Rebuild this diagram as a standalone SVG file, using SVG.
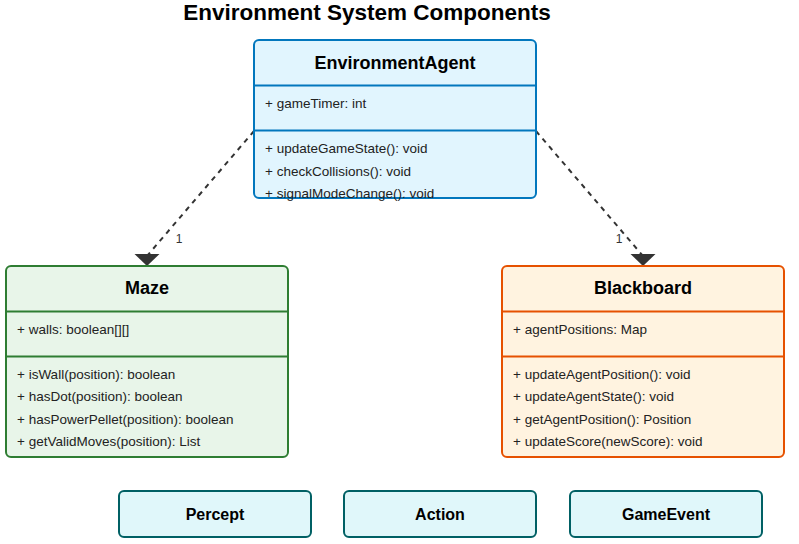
<svg xmlns="http://www.w3.org/2000/svg" width="799" height="544" viewBox="0 0 799 544">
<defs>
<style>
text{font-family:"Liberation Sans",Arial,sans-serif;fill:#000}
.title{font-size:22.5px;font-weight:bold}
.hdr{font-size:18px;font-weight:bold}
.mem{font-size:13.5px;fill:#222}
.small{font-size:16px;font-weight:bold}
.card{font-size:12px;fill:#333}
.env{fill:#e1f5fe;stroke:#0277bd;stroke-width:2}
.envl{stroke:#0277bd;stroke-width:2}
.maze{fill:#e8f5e9;stroke:#2e7d32;stroke-width:2}
.mazel{stroke:#2e7d32;stroke-width:2}
.bb{fill:#fff3e0;stroke:#e65100;stroke-width:2}
.bbl{stroke:#e65100;stroke-width:2}
.aux{fill:#e0f7fa;stroke:#006064;stroke-width:2}
.dep{stroke:#333;stroke-width:2;stroke-dasharray:5,5;fill:none}
</style>
<polygon id="tri" points="-12.5,0 12.5,0 0,12" fill="#333"/>
</defs>
<text class="title" x="367" y="19.5" text-anchor="middle">Environment System Components</text>
<g id="connectors">
<line class="dep" x1="254" y1="131" x2="147" y2="256"/>
<use href="#tri" x="147" y="254"/>
<text class="card" x="179" y="243" text-anchor="middle">1</text>
<line class="dep" x1="536" y1="131" x2="643" y2="256"/>
<use href="#tri" x="643" y="254"/>
<text class="card" x="619" y="243" text-anchor="middle">1</text>
</g>
<g id="EnvironmentAgent">
<rect class="env" x="254" y="40" width="282" height="158" rx="5"/>
<line class="envl" x1="254" y1="85.5" x2="536" y2="85.5"/>
<line class="envl" x1="254" y1="130.5" x2="536" y2="130.5"/>
<text class="hdr" x="395" y="69" text-anchor="middle">EnvironmentAgent</text>
<text class="mem" x="265" y="108">+ gameTimer: int</text>
<text class="mem" x="265" y="153">+ updateGameState(): void</text>
<text class="mem" x="265" y="176">+ checkCollisions(): void</text>
<text class="mem" x="265" y="198">+ signalModeChange(): void</text>
</g>
<g id="Maze">
<rect class="maze" x="6" y="266" width="282" height="191" rx="5"/>
<line class="mazel" x1="6" y1="311.5" x2="288" y2="311.5"/>
<line class="mazel" x1="6" y1="356.5" x2="288" y2="356.5"/>
<text class="hdr" x="147" y="294" text-anchor="middle">Maze</text>
<text class="mem" x="17" y="334">+ walls: boolean[][]</text>
<text class="mem" x="17" y="379">+ isWall(position): boolean</text>
<text class="mem" x="17" y="401">+ hasDot(position): boolean</text>
<text class="mem" x="17" y="424">+ hasPowerPellet(position): boolean</text>
<text class="mem" x="17" y="446">+ getValidMoves(position): List</text>
</g>
<g id="Blackboard">
<rect class="bb" x="502" y="266" width="282" height="191" rx="5"/>
<line class="bbl" x1="502" y1="311.5" x2="784" y2="311.5"/>
<line class="bbl" x1="502" y1="356.5" x2="784" y2="356.5"/>
<text class="hdr" x="643" y="294" text-anchor="middle">Blackboard</text>
<text class="mem" x="513" y="334">+ agentPositions: Map</text>
<text class="mem" x="513" y="379">+ updateAgentPosition(): void</text>
<text class="mem" x="513" y="401">+ updateAgentState(): void</text>
<text class="mem" x="513" y="424">+ getAgentPosition(): Position</text>
<text class="mem" x="513" y="446">+ updateScore(newScore): void</text>
</g>
<g id="Percept">
<rect class="aux" x="119" y="491" width="192" height="46" rx="5"/>
<text class="small" x="215" y="520" text-anchor="middle">Percept</text>
</g>
<g id="Action">
<rect class="aux" x="344" y="491" width="192" height="46" rx="5"/>
<text class="small" x="440" y="520" text-anchor="middle">Action</text>
</g>
<g id="GameEvent">
<rect class="aux" x="570" y="491" width="192" height="46" rx="5"/>
<text class="small" x="666" y="520" text-anchor="middle">GameEvent</text>
</g>
</svg>
